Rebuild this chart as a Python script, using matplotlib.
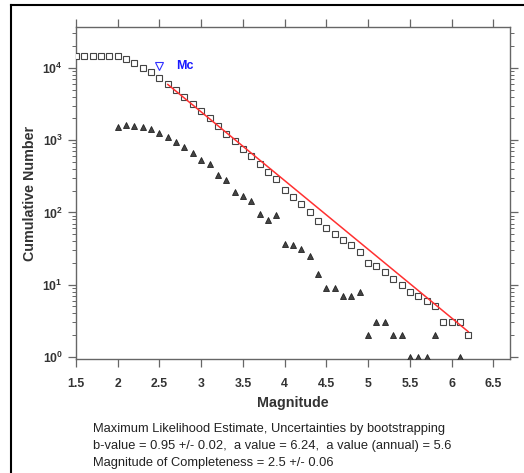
import numpy as np
import matplotlib as mpl
mpl.use('Agg')
import matplotlib.pyplot as plt
from matplotlib.lines import Line2D
from matplotlib.ticker import LogLocator, FixedLocator, NullFormatter

plt.rcParams['font.family'] = ['Liberation Sans', 'DejaVu Sans']
plt.rcParams['mathtext.fontset'] = 'custom'
plt.rcParams['mathtext.rm'] = 'Liberation Sans:bold'
plt.rcParams['mathtext.bf'] = 'Liberation Sans:bold'

# cumulative number of events (squares)
mag_cum = [1.5, 1.6, 1.7, 1.8, 1.9, 2.0, 2.1, 2.2, 2.3, 2.4, 2.5, 2.6, 2.7, 2.8,
           2.9, 3.0, 3.1, 3.2, 3.3, 3.4, 3.5, 3.6, 3.7, 3.8, 3.9, 4.0, 4.1, 4.2,
           4.3, 4.4, 4.5, 4.6, 4.7, 4.8, 4.9, 5.0, 5.1, 5.2, 5.3, 5.4, 5.5, 5.6,
           5.7, 5.8, 5.9, 6.0, 6.1, 6.2]
n_cum = [14700, 14700, 14700, 14700, 14700, 14700, 13200, 11800, 10100, 8750,
         7300, 5970, 4880, 3990, 3160, 2530, 2020, 1570, 1230, 962, 762, 603,
         462, 366, 293, 202, 165, 132, 100, 75, 60, 51, 42, 35, 28, 20, 18, 15,
         12, 10, 8, 7, 6, 5, 3, 3, 3, 2]

# non-cumulative number per bin (triangles)
mag_bin = [2.0, 2.1, 2.2, 2.3, 2.4, 2.5, 2.6, 2.7, 2.8, 2.9, 3.0, 3.1, 3.2, 3.3,
           3.4, 3.5, 3.6, 3.7, 3.8, 3.9, 4.0, 4.1, 4.2, 4.3, 4.4, 4.5, 4.6, 4.7,
           4.8, 4.9, 5.0, 5.1, 5.2, 5.3, 5.4, 5.5, 5.6, 5.7, 5.8, 6.1, 6.2]
n_bin = [1530, 1620, 1590, 1530, 1430, 1270, 1110, 950, 811, 670, 531, 462, 333,
         284, 194, 169, 144, 94, 78, 93, 37, 35, 31, 25, 14, 9, 9, 7, 7, 8, 2, 3,
         3, 2, 2, 1, 1, 1, 2, 1, 2]

# Gutenberg-Richter fit
b_value = 0.95
a_value = 6.24
mc = 2.5
mc_n = 10700
fit_range = [2.6, 6.2]

fig = plt.figure(figsize=(5.24, 4.73), dpi=100)
ax = fig.add_axes([76 / 524, 1 - 359 / 473, 434 / 524, 332 / 473])

ax.plot(mag_bin, n_bin, linestyle='none', marker='^', ms=3.8, mfc='#444444',
        mec='#222222', mew=0.6, zorder=3)
ax.plot(mag_cum, n_cum, linestyle='none', marker='s', ms=4.2, mfc='white',
        mec='#444444', mew=0.8, zorder=3)

m_fit = np.array(fit_range)
ax.plot(m_fit, 10 ** (a_value - b_value * m_fit), color='#ff3030', lw=1.1, zorder=4)

ax.plot([mc], [mc_n], linestyle='none', marker='v', ms=5.5, mfc='white',
        mec='#3030ff', mew=0.8, zorder=5)
ax.text(mc + 0.31, mc_n, 'Mc', color='#1a1aff', fontsize=9, fontweight='bold',
        ha='center', va='center')

ax.set_yscale('log')
ax.set_xlim(1.5, 6.7)
ax.set_ylim(0.938, 36700)

ax.xaxis.set_major_locator(FixedLocator([1.5, 2, 2.5, 3, 3.5, 4, 4.5, 5, 5.5, 6, 6.5]))
ax.set_xticklabels(['1.5', '2', '2.5', '3', '3.5', '4', '4.5', '5', '5.5', '6', '6.5'])
ax.yaxis.set_major_locator(LogLocator(base=10, numticks=10))
ax.yaxis.set_minor_locator(LogLocator(base=10, subs=np.arange(2, 10), numticks=20))
ax.yaxis.set_minor_formatter(NullFormatter())

for s in ax.spines.values():
    s.set_color('#666666')
    s.set_linewidth(1.0)

ax.tick_params(axis='both', which='major', direction='out', length=6, width=0.9,
               color='#666666', labelsize=8.8, top=True, right=True)
ax.tick_params(axis='y', which='minor', direction='out', length=3, width=0.7,
               color='#666666', right=True)
ax.tick_params(axis='x', pad=8)
for lab in ax.get_xticklabels() + ax.get_yticklabels():
    lab.set_fontweight('bold')
    lab.set_color('#333333')

ax.set_xlabel('Magnitude', fontsize=10.3, fontweight='bold', color='#333333', labelpad=4)
ax.set_ylabel('Cumulative Number', fontsize=10.3, fontweight='bold', color='#333333',
              labelpad=4)

info = ['Maximum Likelihood Estimate, Uncertainties by bootstrapping',
        'b-value = 0.95 +/- 0.02,  a value = 6.24,  a value (annual) = 5.6',
        'Magnitude of Completeness = 2.5 +/- 0.06']
for i, line in enumerate(info):
    fig.text(93 / 524, 1 - (429 + 17 * i) / 473, line, fontsize=9.3, color='#222222',
             ha='left', va='center')

# outer frame (left and top edges)
fig.add_artist(Line2D([10.5 / 524, 10.5 / 524], [0, 1 - 5 / 473], color='black',
                      lw=1.5, transform=fig.transFigure))
fig.add_artist(Line2D([10.5 / 524, 1], [1 - 5 / 473, 1 - 5 / 473], color='black',
                      lw=1.5, transform=fig.transFigure))

fig.savefig('out.png', dpi=100)
